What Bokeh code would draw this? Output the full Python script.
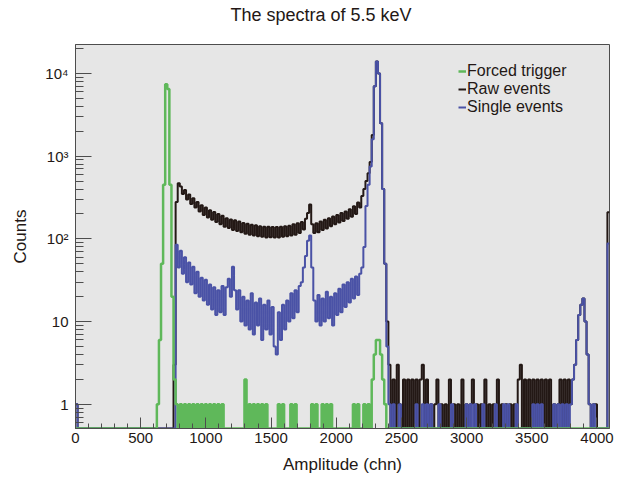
import numpy as np
from bokeh.plotting import figure
from bokeh.models import FixedTicker, Legend, LegendItem, Title
from bokeh.embed import file_html
from bokeh.resources import INLINE

# ---------------- data (counts per 16-channel bin, 16 bins per row) ----------------
BIN_WIDTH = 16
N_CHANNELS = 4096

forced_trigger = (
    [0] * 16 +
    [0] * 16 +
    [0, 0, 0, 0, 0, 0, 0, 1, 6, 50, 450, 7400, 6500, 450, 20, 2] +
    [1, 0, 1, 0, 1, 0, 1, 0, 1, 0, 1, 0, 1, 0, 1, 0] +
    [1, 0, 1, 0, 1, 0, 1, 0, 0, 0, 0, 0, 0, 0, 0, 0] +
    [0, 2, 0, 1, 0, 1, 0, 1, 0, 1, 0, 1, 0, 0, 0, 0] +
    [0, 1, 0, 1, 0, 0, 0, 1, 0, 1, 0, 0, 0, 0, 0, 0] +
    [0, 1, 0, 1, 0, 0, 1, 0, 1, 0, 1, 0, 0, 0, 0, 0] +
    [0, 0, 0, 0, 0, 1, 0, 1, 0, 0, 1, 0, 1, 0, 2, 4] +
    [6, 6, 4, 2, 1, 0, 0, 0, 0, 0, 0, 0, 0, 0, 0, 0] +
    [0] * 16 + [0] * 16 + [0] * 16 + [0] * 16 + [0] * 16 + [0] * 16
)

raw_events = (
    [1] + [0] * 15 +
    [0] * 16 +
    [0] * 15 + [3] +
    [280, 470, 430, 350, 390, 300, 345, 265, 310, 240, 280, 215, 255, 195, 240, 182] +
    [222, 170, 212, 160, 200, 150, 190, 140, 178, 135, 172, 128, 168, 125, 162, 120] +
    [156, 115, 152, 112, 148, 110, 146, 108, 142, 106, 140, 104, 140, 105, 139, 104] +
    [139, 104, 140, 106, 142, 108, 144, 110, 150, 112, 155, 118, 160, 130, 175, 205] +
    [260, 150, 118, 155, 120, 162, 128, 170, 134, 178, 142, 186, 150, 195, 158, 205] +
    [165, 215, 175, 228, 185, 248, 200, 275, 240, 330, 400, 500, 620, 850, 1800, 7000] +
    [14000, 10000, 2500, 400, 50, 10, 3, 0, 2, 0, 3, 1, 0, 2, 0, 2] +
    [0, 2, 0, 2, 0, 2, 3, 0, 2, 0, 1, 0, 1, 2, 0, 1] +
    [0, 1, 0, 2, 0, 1, 0, 1, 0, 2, 0, 1, 0, 1, 2, 0] +
    [1, 0, 1, 0, 2, 0, 1, 0, 1, 0, 2, 0, 1, 0, 1, 0] +
    [1, 0, 1, 0, 2, 3, 0, 2, 0, 2, 0, 2, 0, 2, 0, 2] +
    [0, 2, 0, 2, 0, 1, 0, 1, 2, 0, 2, 0, 2, 1, 2, 3] +
    [6, 12, 16, 19, 10, 4, 1, 0, 1, 1, 0, 0, 0, 0, 0, 210]
)

single_events = (
    [1] + [0] * 15 +
    [0] * 16 +
    [0] * 16 +
    [85, 45, 72, 38, 60, 30, 52, 28, 46, 22, 40, 20, 34, 18, 32, 16] +
    [28, 14, 26, 12, 24, 13, 27, 12, 26, 33, 20, 46, 24, 14, 24, 10] +
    [20, 9, 18, 8, 22, 7, 17, 9, 19, 6, 16, 8, 18, 7, 15, 5] +
    [4, 13, 6, 16, 8, 18, 10, 22, 11, 24, 13, 27, 30, 45, 62, 95] +
    [110, 45, 18, 10, 21, 9, 19, 10, 23, 11, 20, 9, 22, 12, 25, 13] +
    [28, 15, 30, 17, 33, 19, 35, 21, 38, 45, 80, 250, 450, 750, 1600, 7000] +
    [14000, 10000, 2500, 400, 50, 5, 1, 0, 1, 0, 0, 1, 0, 0, 0, 0] +
    [0, 0, 0, 1, 0, 0, 1, 0, 1, 0, 1, 0, 0, 0, 1, 0] +
    [0, 0, 0, 0, 1, 0, 0, 0, 0, 0, 0, 1, 0, 1, 0, 1] +
    [0, 0, 0, 1, 0, 0, 0, 0, 0, 1, 0, 0, 0, 1, 0, 1] +
    [0, 0, 0, 1, 0, 0, 0, 0, 0, 0, 0, 1, 0, 1, 0, 1] +
    [0, 0, 0, 0, 0, 1, 0, 1, 0, 1, 0, 1, 0, 1, 2, 3] +
    [6, 12, 16, 19, 10, 4, 1, 0, 1, 0, 0, 0, 0, 0, 0, 88]
)

series_names = ["Forced trigger", "Raw events", "Single events"]
x_ticks = [0, 500, 1000, 1500, 2000, 2500, 3000, 3500, 4000]
x_minor = [v for v in range(0, 4100, 100) if v % 500 != 0]
y_ticks = [1, 10, 100, 1000, 10000]
y_tick_labels = {1: "1", 10: "10", 100: "10\u00b2", 1000: "10\u00b3", 10000: "10\u2074"}
y_minor = [m * d for d in (0.1, 1, 10, 100, 1000, 10000) for m in range(2, 10)]
title_text = "The spectra of 5.5 keV"

Y_MIN, Y_MAX = 0.51, 22400

# ---------------- styles ----------------
GREEN = "#5fb85a"
BLACK = "#231815"
BLUE = "#4a52a6"
TEXT = "#231815"
FONT = "Liberation Sans"

edges = np.arange(0, N_CHANNELS + BIN_WIDTH, BIN_WIDTH)


def step_y(counts):
    c = np.asarray(counts, dtype=float)
    c = np.where(c > 0, c, Y_MIN)
    return np.append(c, c[-1])


p = figure(width=627, height=477, y_axis_type="log",
           x_range=(0, N_CHANNELS), y_range=(Y_MIN, Y_MAX),
           output_backend="svg", toolbar_location=None,
           min_border_left=75, min_border_right=18,
           min_border_top=44, min_border_bottom=49,
           background_fill_color="#e6e6e6", border_fill_color="white")

p.outline_line_color = "#4d4d4d"
p.outline_line_width = 1
p.grid.visible = False

r_raw = p.step(edges, step_y(raw_events), mode="after", line_color=BLACK, line_width=2)
r_single = p.step(edges, step_y(single_events), mode="after", line_color=BLUE, line_width=2)
r_forced = p.step(edges, step_y(forced_trigger), mode="after", line_color=GREEN, line_width=2.5)

# real title (outermost) and a thin spacer title between it and the frame
p.title.text = title_text
p.title.align = "left"
p.title.offset = 155
p.title.standoff = 4
p.title.text_font = FONT
p.title.text_font_size = "18px"
p.title.text_font_style = "normal"
p.title.text_color = TEXT
p.add_layout(Title(text=" ", text_font_size="1px", standoff=15), "above")

# axes
xa = p.xaxis[0]
xa.ticker = FixedTicker(ticks=x_ticks, minor_ticks=x_minor)
xa.axis_label = "Amplitude (chn)"
ya = p.yaxis[0]
ya.ticker = FixedTicker(ticks=y_ticks, minor_ticks=y_minor)
ya.major_label_overrides = {float(k): v for k, v in y_tick_labels.items()}
ya.axis_label = "Counts"
for ax in (xa, ya):
    ax.axis_line_color = "#4d4d4d"
    ax.major_tick_line_color = "#4d4d4d"
    ax.minor_tick_line_color = "#4d4d4d"
    ax.major_tick_out = 0
    ax.minor_tick_out = 0
    ax.major_label_text_font = FONT
    ax.major_label_text_font_size = "15px"
    ax.major_label_text_color = TEXT
    ax.axis_label_text_font = FONT
    ax.axis_label_text_font_size = "17px"
    ax.axis_label_text_font_style = "normal"
    ax.axis_label_text_color = TEXT
xa.major_tick_in = 11
xa.minor_tick_in = 5
xa.major_label_standoff = 4
xa.axis_label_standoff = 9
ya.major_tick_in = 16
ya.minor_tick_in = 8
ya.major_label_standoff = 7
ya.axis_label_standoff = 12

# legend: one entry per row
rows = [(series_names[0], r_forced, 348), (series_names[1], r_raw, 330), (series_names[2], r_single, 312)]
for name, rend, yoff in rows:
    lg = Legend(items=[LegendItem(label=name, renderers=[rend])], location=(383, yoff),
                padding=0, margin=0, spacing=0, glyph_width=8, glyph_height=16,
                label_height=16, label_standoff=1,
                label_text_font=FONT, label_text_font_size="16px", label_text_color=TEXT,
                background_fill_alpha=0, border_line_alpha=0)
    p.add_layout(lg, "center")

open("out.html", "w").write(file_html(p, INLINE))
